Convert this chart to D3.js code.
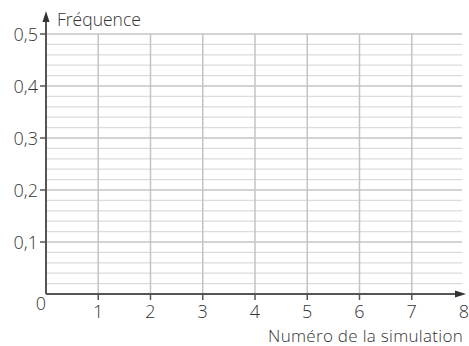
<!DOCTYPE html>
<html>
<head>
    <meta charset="utf-8">
    <title>Fréquence</title>
    <script type="text/javascript" src="https://cdn.jsdelivr.net/npm/d3@7"></script>
    <style type="text/css">
        body { margin: 0; background: #fff; }
        svg { display: block; }
        text { font-family: "Open Sans", "Noto Sans", sans-serif; fill: #333; font-weight: 300; }
    </style>
</head>
<body>
<svg></svg>
<script type="text/javascript">
    var w = 469, h = 346;

    // data: empty frame, only ticks
    var xTicks = [1, 2, 3, 4, 5, 6, 7, 8];
    var yTicks = [0.1, 0.2, 0.3, 0.4, 0.5];
    var yMinor = [0.02, 0.04, 0.06, 0.08, 0.12, 0.14, 0.16, 0.18, 0.22, 0.24, 0.26, 0.28,
                  0.32, 0.34, 0.36, 0.38, 0.42, 0.44, 0.46, 0.48];
    var xLabel = "Numéro de la simulation", yLabel = "Fréquence";

    var x = d3.scaleLinear().domain([0, 8]).range([46, 464]);
    var y = d3.scaleLinear().domain([0, 0.5]).range([294, 34]);
    var fmt = function (d) { return d3.format(".1f")(d).replace(".", ","); };

    var svg = d3.select("svg").attr("width", w).attr("height", h);

    // minor horizontal grid
    svg.append("g").selectAll("line").data(yMinor).enter().append("line")
        .attr("x1", x(0)).attr("x2", 462)
        .attr("y1", function (d) { return y(d); }).attr("y2", function (d) { return y(d); })
        .attr("stroke", "#dcdcdc").attr("stroke-width", 1.2);

    // major grid
    svg.append("g").selectAll("line").data(yTicks).enter().append("line")
        .attr("x1", x(0)).attr("x2", 462)
        .attr("y1", function (d) { return y(d); }).attr("y2", function (d) { return y(d); })
        .attr("stroke", "#c4c4c4").attr("stroke-width", 1.5);
    svg.append("g").selectAll("line").data(xTicks.slice(0, 7)).enter().append("line")
        .attr("x1", function (d) { return x(d); }).attr("x2", function (d) { return x(d); })
        .attr("y1", y(0)).attr("y2", y(0.5))
        .attr("stroke", "#c4c4c4").attr("stroke-width", 1.5);

    // axes
    var axisCol = "#555";
    svg.append("line").attr("x1", x(0)).attr("x2", 458).attr("y1", y(0)).attr("y2", y(0))
        .attr("stroke", axisCol).attr("stroke-width", 2);
    svg.append("path").attr("d", "M466," + y(0) + "L455," + (y(0) - 3.5) + "L455," + (y(0) + 3.5) + "Z")
        .attr("fill", "#333");
    svg.append("line").attr("x1", x(0)).attr("x2", x(0)).attr("y1", y(0)).attr("y2", 20)
        .attr("stroke", axisCol).attr("stroke-width", 2);
    svg.append("path").attr("d", "M" + x(0) + ",11L" + (x(0) - 3.5) + ",22L" + (x(0) + 3.5) + ",22Z")
        .attr("fill", "#333");

    // y ticks and labels
    svg.append("g").selectAll("line").data(yTicks).enter().append("line")
        .attr("x1", x(0) - 6).attr("x2", x(0))
        .attr("y1", function (d) { return y(d); }).attr("y2", function (d) { return y(d); })
        .attr("stroke", axisCol).attr("stroke-width", 1.5);
    svg.append("g").selectAll("text").data(yTicks).enter().append("text")
        .attr("x", x(0) - 8).attr("y", function (d) { return y(d) + 6.5; })
        .attr("text-anchor", "end").attr("font-size", 18)
        .text(fmt);

    // x ticks and labels
    svg.append("g").selectAll("line").data(xTicks.slice(0, 7)).enter().append("line")
        .attr("x1", function (d) { return x(d); }).attr("x2", function (d) { return x(d); })
        .attr("y1", y(0)).attr("y2", y(0) + 6)
        .attr("stroke", axisCol).attr("stroke-width", 1.5);
    svg.append("g").selectAll("text").data(xTicks).enter().append("text")
        .attr("x", function (d) { return x(d); }).attr("y", 318)
        .attr("text-anchor", "middle").attr("font-size", 18)
        .text(function (d) { return d; });
    svg.append("text").attr("x", 41).attr("y", 310)
        .attr("text-anchor", "middle").attr("font-size", 18).text("0");

    // axis titles
    svg.append("text").attr("x", 57).attr("y", 26).attr("font-size", 17.5).text(yLabel);
    svg.append("text").attr("x", 463).attr("y", 342).attr("text-anchor", "end")
        .attr("font-size", 17).attr("letter-spacing", 0.3).text(xLabel);
</script>
</body>
</html>
